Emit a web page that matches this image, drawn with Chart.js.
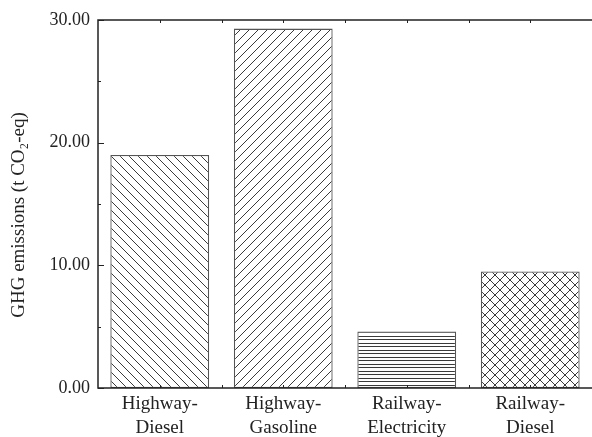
<!DOCTYPE html>
<html>
<head>
<meta charset="utf-8">
<script src="https://cdn.jsdelivr.net/npm/chart.js@4/dist/chart.umd.min.js"></script>
<style>
  html, body { margin: 0; padding: 0; background: #fff; }
  #wrap { width: 592px; height: 437px; }
</style>
</head>
<body>
<div id="wrap"><canvas id="chart" width="592" height="437"></canvas></div>
<script>
// Transport modes (two-line labels) and their GHG emissions, t CO2-eq
const categories = [
  ['Highway-', 'Diesel'],
  ['Highway-', 'Gasoline'],
  ['Railway-', 'Electricity'],
  ['Railway-', 'Diesel']
];
const emissions = [19.0, 29.3, 4.6, 9.5];
const yMajorTicks = [0, 10, 20, 30];
const yTitle = 'GHG emissions (t CO\u2082-eq)';

const INK = '#222';
const HATCH = '#3a3a3a';
const FONT = '"Liberation Serif", "Times New Roman", serif';

// Hatch fill tiles
function makePattern(kind) {
  const c = document.createElement('canvas');
  const g = c.getContext('2d');
  let s = 9;
  if (kind === 'horiz') { c.width = 8; c.height = 7; }
  else if (kind === 'cross') { s = 10; c.width = s; c.height = s; }
  else { c.width = s; c.height = s; }
  g.fillStyle = '#fff';
  g.fillRect(0, 0, c.width, c.height);
  g.strokeStyle = HATCH;
  g.lineWidth = 1;
  const back = () => {
    g.beginPath();
    g.moveTo(-2, -2); g.lineTo(s + 2, s + 2);
    g.moveTo(-2, s - 2); g.lineTo(2, s + 2);
    g.moveTo(s - 2, -2); g.lineTo(s + 2, 2);
    g.stroke();
  };
  const fwd = () => {
    g.beginPath();
    g.moveTo(-2, s + 2); g.lineTo(s + 2, -2);
    g.moveTo(-2, 2); g.lineTo(2, -2);
    g.moveTo(s - 2, s + 2); g.lineTo(s + 2, s - 2);
    g.stroke();
  };
  if (kind === 'back') back();
  else if (kind === 'fwd') fwd();
  else if (kind === 'cross') { back(); fwd(); }
  else if (kind === 'horiz') {
    g.beginPath();
    g.moveTo(0, 0.5); g.lineTo(8, 0.5);
    g.moveTo(0, 3.5); g.lineTo(8, 3.5);
    g.stroke();
  }
  return g.createPattern(c, 'repeat');
}

const ctx0 = document.getElementById('chart').getContext('2d');
const fills = [makePattern('back'), makePattern('fwd'), makePattern('horiz'), makePattern('cross')];

// Axis frame with inward tick marks, plus the rotated y-axis title
const framePlugin = {
  id: 'frame',
  afterDatasetsDraw(chart) {
    const { ctx, chartArea: a, scales } = chart;
    const xs = scales.x, ys = scales.y;
    ctx.save();
    ctx.strokeStyle = INK;
    ctx.lineWidth = 1.5;
    ctx.beginPath();
    ctx.moveTo(a.left, a.top); ctx.lineTo(a.left, a.bottom);
    ctx.moveTo(a.left - 0.75, a.bottom); ctx.lineTo(chart.width, a.bottom);
    ctx.moveTo(a.left - 0.75, a.top); ctx.lineTo(chart.width, a.top);
    ctx.stroke();
    ctx.lineWidth = 1;
    ctx.beginPath();
    for (let v = ys.min; v <= ys.max; v += 5) {
      const y = Math.round(ys.getPixelForValue(v)) + 0.5;
      const len = yMajorTicks.includes(v) ? 6 : 3;
      ctx.moveTo(a.left, y); ctx.lineTo(a.left + len, y);
    }
    for (let i = 0; i < categories.length; i += 0.5) {
      const x = Math.round(xs.getPixelForValue(i)) + 0.5;
      ctx.moveTo(x, a.top); ctx.lineTo(x, a.top + 3);
      ctx.moveTo(x, a.bottom); ctx.lineTo(x, a.bottom - 3);
    }
    ctx.stroke();

    ctx.translate(19.5, (a.top + a.bottom) / 2 + 11);
    ctx.rotate(-Math.PI / 2);
    ctx.fillStyle = INK;
    ctx.font = '19px ' + FONT;
    ctx.textAlign = 'center';
    ctx.textBaseline = 'middle';
    ctx.fillText(yTitle, 0, 0);
    ctx.restore();
  }
};

new Chart(ctx0, {
  type: 'bar',
  data: {
    labels: categories,
    datasets: [{
      data: emissions,
      backgroundColor: fills,
      borderColor: '#555',
      borderWidth: 1.3,
      borderSkipped: false,
      categoryPercentage: 1.0,
      barPercentage: 0.8
    }]
  },
  options: {
    responsive: false,
    animation: false,
    devicePixelRatio: 1,
    layout: { padding: { top: 20, right: 0, left: 0, bottom: 0 } },
    plugins: { legend: { display: false }, tooltip: { enabled: false } },
    scales: {
      x: {
        grid: { display: false, drawTicks: false },
        border: { display: false },
        ticks: {
          color: INK,
          font: { family: FONT, size: 19, lineHeight: 1.26 },
          padding: 4,
          maxRotation: 0,
          autoSkip: false
        },
        afterFit(scale) { scale.height = 49; }
      },
      y: {
        min: 0,
        max: 30,
        grid: { display: false, drawTicks: false },
        border: { display: false },
        ticks: {
          stepSize: 10,
          color: INK,
          font: { family: FONT, size: 18 },
          padding: 8,
          callback: (v) => Number(v).toFixed(2)
        },
        afterFit(scale) { scale.width = 98; }
      }
    }
  },
  plugins: [framePlugin]
});
</script>
</body>
</html>
